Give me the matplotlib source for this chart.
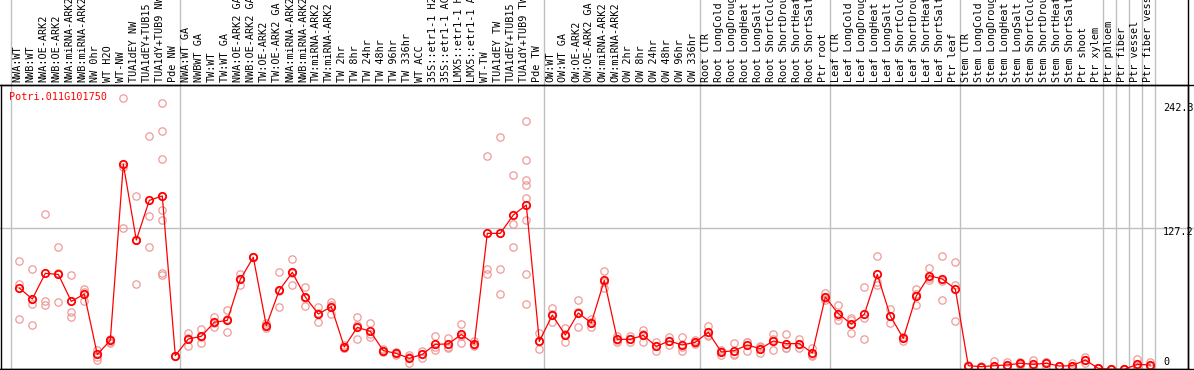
import matplotlib
matplotlib.use("Agg")
import matplotlib.pyplot as plt
from matplotlib.lines import Line2D
import numpy as np

gene = "Potri.011G101750"

labels = [
    "NWA:WT", "NWB:WT", "NWA:OE-ARK2", "NWB:OE-ARK2", "NWA:miRNA-ARK2", "NWB:miRNA-ARK2",
    "NW 0hr", "WT H2O", "WT-NW", "TUA1dEY NW", "TUA1dEY+TUB15", "TUA1dY+TUB9 NW", "Pde NW",
    "NWA:WT GA", "NWBWT GA", "TW:WT", "TW:WT GA", "NWA:OE-ARK2 GA", "NWB:OE-ARK2 GA",
    "TW:OE-ARK2", "TW:OE-ARK2 GA", "NWA:miRNA-ARK2", "NWB:miRNA-ARK2", "TW:miRNA-ARK2",
    "TW:miRNA-ARK2", "TW 2hr", "TW 8hr", "TW 24hr", "TW 48hr", "TW 96hr", "TW 336hr",
    "WT ACC", "35S::etr1-1 H2", "35S::etr1-1 AC", "LMX5::etr1-1 H", "LMX5::etr1-1 A",
    "WT-TW", "TUA1dEY TW", "TUA1dEY+TUB15", "TUA1dY+TUB9 TW", "Pde TW",
    "OW:WT", "OW:WT GA", "OW:OE-ARK2", "OW:OE-ARK2 GA", "OW:miRNA-ARK2", "OW:miRNA-ARK2",
    "OW 2hr", "OW 8hr", "OW 24hr", "OW 48hr", "OW 96hr", "OW 336hr",
    "Root CTR", "Root LongCold", "Root LongDroug", "Root LongHeat", "Root LongSalt",
    "Root ShortCold", "Root ShortDrou", "Root ShortHeat", "Root ShortSalt", "Ptr root",
    "Leaf CTR", "Leaf LongCold", "Leaf LongDroug", "Leaf LongHeat", "Leaf LongSalt",
    "Leaf ShortCold", "Leaf ShortDrou", "Leaf ShortHeat", "Leaf ShortSalt", "Ptr leaf",
    "Stem CTR", "Stem LongCold", "Stem LongDroug", "Stem LongHeat", "Stem LongSalt",
    "Stem ShortCold", "Stem ShortDrou", "Stem ShortHeat", "Stem ShortSalt", "Ptr shoot",
    "Ptr xylem", "Ptr phloem", "Ptr fiber", "Ptr vessel", "Ptr fiber vess",
]

means = [
    74.3, 64.6, 87.3, 86.4, 62.5, 69.0, 15.5, 28.0, 183.8, 116.8, 151.9, 155.8, 14.5,
    29.2, 31.6, 44.0, 45.7, 82.0, 101.5, 41.0, 72.3, 88.2, 66.4, 51.3, 57.8, 22.1, 39.5,
    36.0, 18.9, 16.5, 12.1, 15.6, 24.5, 24.8, 33.3, 24.8, 122.7, 122.7, 138.9, 147.8, 27.1,
    50.4, 32.7, 52.2, 43.4, 81.1, 28.9, 28.9, 32.4, 22.7, 27.4, 23.9, 26.3,
    35.1, 17.7, 18.9, 23.9, 20.6, 27.4, 25.1, 25.1, 16.8, 66.4,
    51.6, 42.5, 51.0, 86.4, 49.6, 29.8, 67.3, 85.3, 82.3, 73.5,
    5.6, 4.7, 5.6, 6.2, 7.7, 6.8, 7.7, 5.3, 5.6, 10.6,
    3.2, 2.4, 2.4, 6.8, 6.2,
]

replicates = [
    [98.2, 77.6, 46.6], [91.2, 59.9, 41.6], [139.8, 62.8, 59.3], [110.3, 87.2, 61.7],
    [85.5, 53.4, 49.0], [73.5, 71.1, 62.8], [19.5, 13.6, 10.6], [29.2, 26.8, 26.0],
    [242.3, 181.5, 127.7], [155.8, 117.0, 77.6], [208.8, 138.1, 110.3],
    [238.1, 213.0, 188.5, 155.8, 143.4, 134.5, 87.6, 85.5], [14.5, 14.5, 14.5],
    [34.2, 30.0, 23.3], [37.8, 31.0, 26.0], [48.4, 43.5, 40.1], [54.9, 46.5, 35.7],
    [86.7, 82.3, 77.0], [101.5, 101.5, 101.5], [43.1, 41.3, 38.6], [88.2, 71.5, 57.2],
    [100.0, 88.0, 76.7], [75.2, 65.6, 58.4], [57.2, 52.2, 44.5], [62.2, 59.6, 51.6],
    [23.9, 21.5, 20.9], [48.4, 41.2, 28.9], [43.4, 33.3, 31.3], [20.5, 18.9, 17.3],
    [18.0, 16.5, 15.0], [15.0, 13.0, 8.3], [18.9, 15.8, 12.1], [31.9, 22.1, 19.5],
    [30.4, 22.5, 21.5], [42.5, 32.0, 25.4], [27.4, 23.7, 23.3], [191.2, 90.9, 86.7],
    [207.7, 91.2, 68.7], [174.3, 130.7, 110.9],
    [221.8, 187.3, 169.9, 165.5, 154.3, 134.2, 86.4, 59.9], [34.2, 27.0, 20.1],
    [56.3, 50.9, 44.0], [38.6, 33.2, 26.3], [63.7, 53.4, 39.5], [46.6, 44.1, 39.5],
    [89.4, 79.9, 74.0], [32.2, 28.2, 26.3], [31.6, 28.8, 26.3], [36.9, 34.0, 26.3],
    [26.8, 22.7, 18.6], [31.3, 27.0, 23.9], [30.7, 22.1, 18.9], [28.3, 25.8, 24.8],
    [41.0, 32.7, 31.6], [19.5, 18.6, 15.0], [25.4, 16.3, 15.0], [26.8, 26.3, 18.6],
    [22.4, 22.9, 16.5], [33.6, 29.1, 19.5], [33.6, 20.9, 20.8], [29.2, 25.2, 20.9],
    [20.9, 15.0, 14.5], [69.6, 65.9, 63.7], [59.3, 49.5, 46.0], [47.5, 45.8, 34.2],
    [74.9, 47.8, 29.5], [102.4, 79.8, 77.0], [55.8, 49.3, 43.7], [31.3, 30.7, 27.4],
    [73.2, 69.4, 59.3], [91.7, 82.8, 81.4], [102.4, 80.8, 63.7], [97.1, 77.0, 45.1],
    [6.0, 5.6, 5.2], [5.0, 4.7, 4.4], [9.7, 4.0, 3.1], [8.6, 5.5, 4.5], [9.1, 7.4, 6.6],
    [10.3, 5.5, 4.6], [8.5, 9.0, 5.6], [5.6, 5.3, 5.0], [7.7, 5.0, 4.1], [13.6, 10.5, 7.7],
    [3.2, 3.2, 3.2], [2.4, 2.4, 2.4], [2.4, 2.4, 2.4], [11.5, 5.0, 3.9], [8.6, 5.0, 5.0],
]

# group separators (drawn after these column indices)
separators_after = [-1, 12, 40, 52, 62, 72, 83, 84, 85, 86, 87]
ytick_values = [242.3, 127.2, 0]
ytick_labels = ["242.3", "127.2", "0"]

W, H = 1194, 370
fig = plt.figure(figsize=(W / 100, H / 100), dpi=100)
# axes in pixel terms: x 1..1188, y 85..369
ax = fig.add_axes([1 / W, (H - 369) / H, 1187 / W, 284 / H])

x = np.arange(len(labels))
ax.set_xlim(-1.408, 89.9)
ax.set_ylim(2.65, 254.0)
ax.set_xticks([])
ax.set_yticks([])
for s in ax.spines.values():
    s.set_color("black")
    s.set_linewidth(1.0)

mono = "DejaVu Sans Mono"
fs = 7.3
grey = "#c0c0c0"

# grid line at middle tick
ax.axhline(127.2, xmin=-0.01, xmax=1.01, color=grey, lw=1.0, clip_on=False, zorder=1)

# vertical separators extending through the label area
for k in separators_after:
    ax.axvline(k + 0.36, ymin=0, ymax=1 + 85 / 284, color=grey, lw=1.0,
               clip_on=False, zorder=1)

# replicates
rep_x = np.concatenate([[i] * len(r) for i, r in enumerate(replicates)])
rep_y = np.concatenate(replicates)
ax.plot(rep_x, rep_y, linestyle="none", marker="o", markersize=5.3,
        markerfacecolor="none", markeredgecolor="#f09a9a", markeredgewidth=0.9, zorder=2)

# mean line
ax.plot(x, means, color="#ff0000", lw=0.9, marker="o", markersize=5.3,
        markerfacecolor="none", markeredgecolor="#ff0000", markeredgewidth=1.3, zorder=3)

# rotated column labels above the plot
lab_trans = matplotlib.transforms.blended_transform_factory(ax.transData, ax.transAxes)
offset = matplotlib.transforms.ScaledTranslation(-2 / 100, 0, fig.dpi_scale_trans)
for i, lab in enumerate(labels):
    ax.text(i, 1 + 2.5 / 284, lab, rotation=90, ha="center", va="bottom",
            fontsize=fs, family=mono, color="black", transform=lab_trans + offset,
            clip_on=False)

# gene title
ax.text(8.3 / 1187, (369 - 97) / 284, gene, color="#ff0000", fontsize=fs, family=mono,
        ha="left", va="center", transform=ax.transAxes)

# y labels on the right
fig.canvas.draw()
for v, t in zip(ytick_values, ytick_labels):
    ydisp = ax.transData.transform((0, v))[1]
    ypix = H - ydisp + 4
    ypix = min(max(ypix, 108), 362)
    fig.text(1163 / W, (H - ypix) / H, t, fontsize=fs, family=mono, ha="left",
             va="center", color="black")

# full-width frame lines
fig.add_artist(Line2D([0, 1], [(H - 85) / H] * 2, color="black", lw=1.0,
                      transform=fig.transFigure))
fig.add_artist(Line2D([0, 1], [(H - 369) / H] * 2, color="black", lw=1.0,
                      transform=fig.transFigure))
fig.add_artist(Line2D([1188 / W] * 2, [0, 1], color="black", lw=1.0,
                      transform=fig.transFigure))

fig.savefig("out.png", dpi=100)
